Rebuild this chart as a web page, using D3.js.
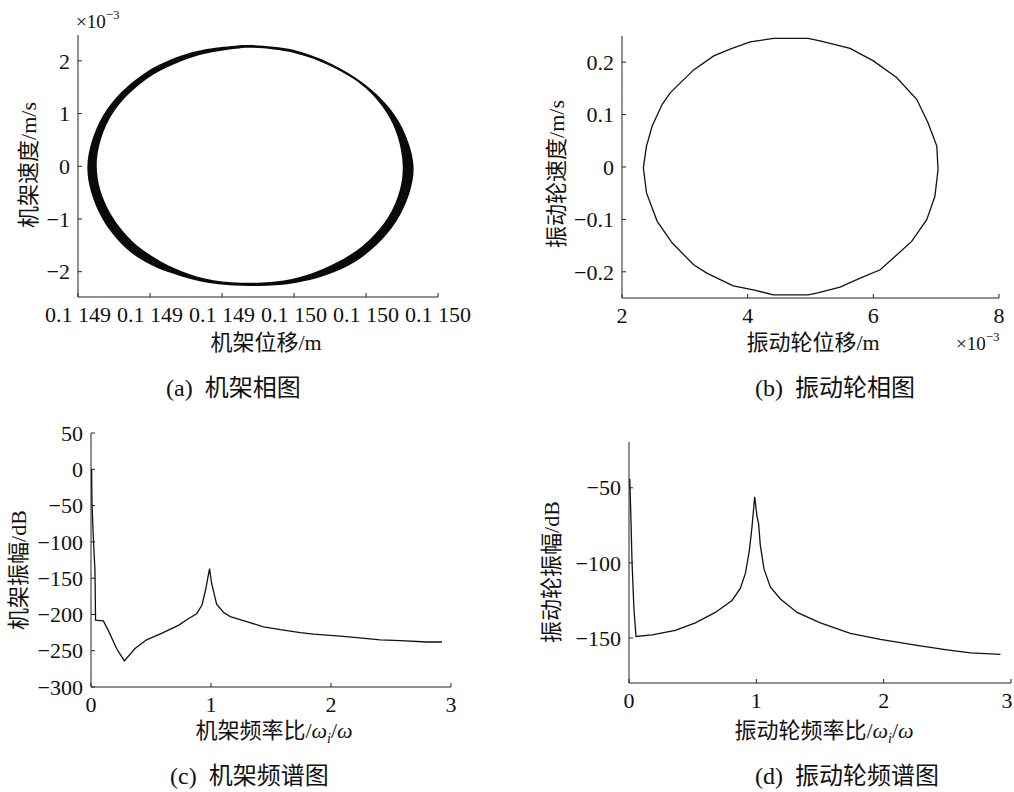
<!DOCTYPE html>
<html>
<head>
<meta charset="utf-8">
<script src="https://cdn.jsdelivr.net/npm/d3@7/dist/d3.min.js"></script>
<style>
  body { margin: 0; background: #fff; }
  svg text { font-family: "Liberation Serif", "Noto Sans CJK SC", serif; fill: #111; }
</style>
</head>
<body>
<div id="chart"></div>
<script>
// (a) frame phase plot: displacement (m) vs velocity (x1e-3 m/s), outer and inner edge of the band
const frameTicksX = [0.11492, 0.11493, 0.11494, 0.11495, 0.11496, 0.11497]
const frameTickLabelsX = ["0.1 149", "0.1 149", "0.1 149", "0.1 150", "0.1 150", "0.1 150"]
const frameTicksY = [-2, -1, 0, 1, 2]
const frameOuterX = [0.1149439, 0.1149499, 0.1149551, 0.1149597, 0.1149633, 0.1149655, 0.1149666, 0.1149661,
  0.1149642, 0.1149615, 0.1149585, 0.1149546, 0.1149500, 0.1149450, 0.1149395, 0.1149344, 0.1149301,
  0.1149267, 0.1149236, 0.1149218, 0.1149213, 0.1149219, 0.1149235, 0.1149259, 0.1149295, 0.1149328,
  0.1149367, 0.1149413]
const frameOuterV = [2.30, 2.21, 1.95, 1.57, 1.10, 0.59, 0.01, -0.48, -1.05, -1.49, -1.81, -2.06, -2.22,
  -2.27, -2.24, -2.09, -1.87, -1.56, -1.05, -0.48, -0.01, 0.47, 0.97, 1.39, 1.79, 2.02, 2.19, 2.28]
const frameInnerX = [0.1149439, 0.1149500, 0.1149554, 0.1149599, 0.1149628, 0.1149644, 0.1149651, 0.1149647,
  0.1149631, 0.1149606, 0.1149578, 0.1149540, 0.1149497, 0.1149450, 0.1149388, 0.1149344, 0.1149307,
  0.1149275, 0.1149247, 0.1149231, 0.1149226, 0.1149230, 0.1149243, 0.1149264, 0.1149298, 0.1149331,
  0.1149369, 0.1149419]
const frameInnerV = [2.25, 2.15, 1.88, 1.49, 1.03, 0.56, 0.01, -0.45, -0.96, -1.38, -1.68, -1.95, -2.14,
  -2.21, -2.16, -1.99, -1.74, -1.42, -0.94, -0.45, 0.01, 0.42, 0.88, 1.28, 1.68, 1.92, 2.11, 2.23]

// (b) wheel phase plot: displacement (x1e-3 m) vs velocity (m/s)
const wheelTicksX = [2, 4, 6, 8]
const wheelTicksY = [-0.2, -0.1, 0, 0.1, 0.2]
const wheelTickLabelsY = ["\u22120.2", "\u22120.1", "0", "0.1", "0.2"]
const wheelX = [4.41, 4.96, 5.15, 5.63, 6.00, 6.37, 6.69, 6.87, 7.01, 7.03, 6.98, 6.85, 6.61, 6.11, 5.79,
  5.47, 5.10, 4.96, 4.41, 4.09, 3.77, 3.35, 3.14, 2.80, 2.56, 2.39, 2.34, 2.39, 2.48, 2.64, 2.77, 3.14,
  3.46, 3.72, 4.04]
const wheelV = [0.2454, 0.2454, 0.2408, 0.2262, 0.2025, 0.1707, 0.1292, 0.0846, 0.0398, -0.0048, -0.0559,
  -0.1005, -0.1420, -0.1962, -0.2121, -0.2293, -0.2408, -0.2440, -0.2440, -0.2344, -0.2268, -0.2025,
  -0.1866, -0.1451, -0.1037, -0.0494, -0.0015, 0.0398, 0.0781, 0.1196, 0.1420, 0.1853, 0.2121, 0.2249,
  0.2389]

// (c) frame spectrum
const freqTicks = [0, 1, 2, 3]
const frameDbTicks = [50, 0, -50, -100, -150, -200, -250, -300]
const frameFreq = [0.005, 0.008, 0.019, 0.033, 0.038, 0.103, 0.144, 0.213, 0.278, 0.367, 0.463, 0.588, 0.728,
  0.811, 0.88, 0.925, 0.955, 0.988, 1.005, 1.047, 1.103, 1.161, 1.297, 1.438, 1.578, 1.744, 1.855, 2.078,
  2.217, 2.41, 2.578, 2.80, 2.925]
const frameDb = [0, -45, -93, -139, -208, -209, -222, -247, -264, -247, -235, -226, -215, -206, -199, -187,
  -166, -137, -157, -186, -197, -203, -210, -217, -221, -225, -227, -230, -232, -235, -236, -238, -238]

// (d) wheel spectrum
const wheelDbTicks = [-50, -100, -150]
const wheelFreq = [0.006, 0.014, 0.024, 0.039, 0.055, 0.181, 0.364, 0.521, 0.678, 0.809, 0.874, 0.914, 0.945,
  0.966, 0.987, 1.005, 1.018, 1.031, 1.06, 1.11, 1.189, 1.32, 1.503, 1.738, 1.974, 2.262, 2.498, 2.681, 2.917]
const wheelDb = [-44, -67, -100, -131, -149, -148, -145, -140, -133, -125, -117, -107, -92, -76, -56, -69, -74,
  -88, -104, -116, -124, -133, -140, -147, -151, -155, -158, -160, -161]

const width = 1014
const height = 792

const svg = d3.select("#chart")
  .append("svg")
  .attr("width", width)
  .attr("height", height)

function fmtNum(d) {
  return d < 0 ? "\u2212" + Math.abs(d) : String(d)
}

// draws left + bottom axes MATLAB style (ticks inward, box off)
function drawAxes(box, x, y, xTicks, xLabels, yTicks, yLabels) {
  const g = svg.append("g")
  const tick = 4

  g.append("line")
    .attr("x1", box.left).attr("x2", box.right)
    .attr("y1", box.bottom).attr("y2", box.bottom)
    .attr("stroke", "#222").attr("stroke-width", 1)
  g.append("line")
    .attr("x1", box.left).attr("x2", box.left)
    .attr("y1", box.top).attr("y2", box.bottom)
    .attr("stroke", "#222").attr("stroke-width", 1)

  xTicks.forEach((t, i) => {
    g.append("line")
      .attr("x1", x(t)).attr("x2", x(t))
      .attr("y1", box.bottom).attr("y2", box.bottom - tick)
      .attr("stroke", "#222")
    // last label of the right panels sits on the page edge
    g.append("text")
      .attr("x", Math.min(x(t), width - 7))
      .attr("y", box.bottom + 25)
      .attr("text-anchor", "middle")
      .style("font-size", "22px")
      .text(xLabels ? xLabels[i] : fmtNum(t))
  })

  yTicks.forEach((t, i) => {
    g.append("line")
      .attr("x1", box.left).attr("x2", box.left + tick)
      .attr("y1", y(t)).attr("y2", y(t))
      .attr("stroke", "#222")
    g.append("text")
      .attr("x", box.left - 8)
      .attr("y", y(t))
      .attr("dy", "0.35em")
      .attr("text-anchor", "end")
      .style("font-size", "22px")
      .text(yLabels ? yLabels[i] : fmtNum(t))
  })
  return g
}

function yLabel(cx, cy, txt) {
  svg.append("text")
    .attr("transform", `translate(${cx},${cy}) rotate(-90)`)
    .attr("text-anchor", "middle")
    .attr("dy", "0.35em")
    .style("font-size", "22px")
    .text(txt)
}

function xLabel(cx, by, txt) {
  svg.append("text")
    .attr("x", cx).attr("y", by)
    .attr("text-anchor", "middle")
    .style("font-size", "22px")
    .text(txt)
}

function freqLabel(cx, by, prefix) {
  const t = svg.append("text")
    .attr("x", cx).attr("y", by)
    .attr("text-anchor", "middle")
    .style("font-size", "22px")
  t.append("tspan").text(prefix + "/")
  t.append("tspan").style("font-style", "italic").text("\u03c9")
  t.append("tspan").style("font-style", "italic").style("font-size", "14px").attr("dy", 5).text("i")
  t.append("tspan").attr("dy", -5).text("/")
  t.append("tspan").style("font-style", "italic").text("\u03c9")
}

function caption(x0, by, tag, txt) {
  const t = svg.append("text")
    .attr("x", x0).attr("y", by)
    .style("font-size", "24px")
  t.append("tspan").text(tag)
  t.append("tspan").attr("dx", 12).text(txt)
}

function expLabel(x0, by) {
  const t = svg.append("text")
    .attr("x", x0).attr("y", by)
    .style("font-size", "19px")
  t.append("tspan").text("\u00d710")
  t.append("tspan").attr("dy", -9).style("font-size", "13px").text("\u22123")
}

// ---- (a) frame phase plot
{
  const box = { left: 78, right: 438, top: 35, bottom: 297 }
  const x = d3.scaleLinear().domain([0.11492, 0.11497]).range([box.left, box.right])
  const y = d3.scaleLinear().domain([-2.48, 2.49]).range([box.bottom, box.top])
  drawAxes(box, x, y, frameTicksX, frameTickLabelsX, frameTicksY, null)

  const line = d3.line().curve(d3.curveCatmullRomClosed)
  const outer = frameOuterX.map((d, i) => [x(d), y(frameOuterV[i])])
  const inner = frameInnerX.map((d, i) => [x(d), y(frameInnerV[i])])
  svg.append("path")
    .attr("d", line(outer) + line(inner))
    .attr("fill", "#0a0a0a")
    .attr("fill-rule", "evenodd")

  expLabel(76, 28)
  yLabel(28, 165, "机架速度/m/s")
  xLabel(266, 350, "机架位移/m")
  caption(166, 396, "(a)", "机架相图")
}

// ---- (b) wheel phase plot
{
  const box = { left: 622, right: 999, top: 36, bottom: 298 }
  const x = d3.scaleLinear().domain([2, 8]).range([box.left, box.right])
  const y = d3.scaleLinear().domain([-0.25, 0.25]).range([box.bottom, box.top])
  drawAxes(box, x, y, wheelTicksX, null, wheelTicksY, wheelTickLabelsY)

  const line = d3.line()
    .x((d, i) => x(wheelX[i]))
    .y((d, i) => y(wheelV[i]))
    .curve(d3.curveLinearClosed)
  svg.append("path")
    .attr("d", line(wheelX))
    .attr("fill", "none")
    .attr("stroke", "#111")
    .attr("stroke-width", 1.3)

  expLabel(956, 350)
  yLabel(556, 174, "振动轮速度/m/s")
  xLabel(813, 350, "振动轮位移/m")
  caption(755, 396, "(b)", "振动轮相图")
}

// ---- (c) frame spectrum
{
  const box = { left: 91, right: 451, top: 433, bottom: 687 }
  const x = d3.scaleLinear().domain([0, 3]).range([box.left, box.right])
  const y = d3.scaleLinear().domain([-300, 50]).range([box.bottom, box.top])
  drawAxes(box, x, y, freqTicks, null, frameDbTicks, null)

  const line = d3.line()
    .x((d, i) => x(frameFreq[i]))
    .y((d, i) => y(frameDb[i]))
  svg.append("path")
    .attr("d", line(frameFreq))
    .attr("fill", "none")
    .attr("stroke", "#111")
    .attr("stroke-width", 1.3)

  yLabel(18, 570, "机架振幅/dB")
  freqLabel(274, 738, "机架频率比")
  caption(170, 784, "(c)", "机架频谱图")
}

// ---- (d) wheel spectrum
{
  const box = { left: 629, right: 1011, top: 442, bottom: 683 }
  const x = d3.scaleLinear().domain([0, 3]).range([box.left, box.right])
  const y = d3.scaleLinear().domain([-180, -19.5]).range([box.bottom, box.top])
  drawAxes(box, x, y, freqTicks, null, wheelDbTicks, null)

  const line = d3.line()
    .x((d, i) => x(wheelFreq[i]))
    .y((d, i) => y(wheelDb[i]))
  svg.append("path")
    .attr("d", line(wheelFreq))
    .attr("fill", "none")
    .attr("stroke", "#111")
    .attr("stroke-width", 1.3)

  yLabel(551, 572, "振动轮振幅/dB")
  freqLabel(824, 738, "振动轮频率比")
  caption(755, 784, "(d)", "振动轮频谱图")
}
</script>
</body>
</html>
